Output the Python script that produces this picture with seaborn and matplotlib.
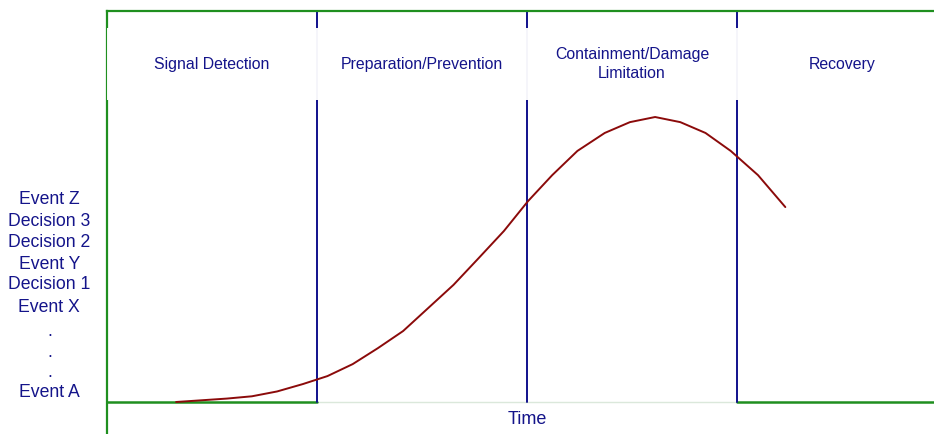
import matplotlib
matplotlib.use("Agg")
import matplotlib.pyplot as plt
import seaborn as sns
import pandas as pd
from matplotlib.patches import Rectangle

# Data
phases = ["Signal Detection", "Preparation/Prevention", "Containment/Damage\nLimitation", "Recovery"]
phase_bounds = [0, 10, 20, 30, 39.38]
time_vals = [3.29, 5.71, 6.9, 8.1, 9.33, 10.5, 11.7, 12.9, 14.1, 15.3, 16.5, 17.7,
             18.9, 20.05, 21.2, 22.4, 23.7, 24.9, 26.1, 27.3, 28.5, 29.7, 31.0, 32.3]
intensity = [0, 1.2, 2.0, 3.7, 6.3, 9.1, 13.3, 18.9, 24.9, 33.0, 41.1, 50.5,
             60.0, 70.5, 79.6, 88.1, 94.4, 98.2, 100, 98.2, 94.4, 88.1, 79.6, 68.4]
event_labels = ["Event A", ".", ".", ".", "Event X", "Decision 1", "Event Y",
                "Decision 2", "Decision 3", "Event Z"]
event_pos = [3.86, 10.9, 18.2, 25.6, 34.0, 41.8, 49.1, 56.5, 64.2, 71.6]

sns.set_style("white")
plt.rcParams['font.family'] = ['Liberation Sans', 'DejaVu Sans']

W, H = 934, 434
fig = plt.figure(figsize=(W / 100, H / 100), dpi=100)
ax = fig.add_axes([107 / W, 0, 827 / W, 423 / H])

navy = "#14148a"
green = "#1f8f1f"
blue = "#10108c"

xmax = phase_bounds[-1]
ax.set_xlim(0, xmax)
ax.set_ylim(-11.23, 137.2)

for s in ["right", "bottom"]:
    ax.spines[s].set_visible(False)
for s in ["left", "top"]:
    ax.spines[s].set_color(green)
    ax.spines[s].set_linewidth(1.6)

# bottom baseline
ax.plot([0, phase_bounds[1]], [0, 0], color=green, lw=1.8, zorder=2, clip_on=False)
ax.plot([phase_bounds[1], phase_bounds[3]], [0, 0], color="#dbe8db", lw=1.0, zorder=1)
ax.plot([phase_bounds[3], xmax], [0, 0], color=green, lw=1.8, zorder=2, clip_on=False)

# phase dividers
for b in phase_bounds[1:4]:
    ax.plot([b, b], [0, 137.2], color=blue, lw=1.4, zorder=2)

df = pd.DataFrame({"t": time_vals, "v": intensity})
sns.lineplot(data=df, x="t", y="v", ax=ax, color="#8b0a0a", lw=1.4, zorder=4)

# white band behind phase titles
ax.add_patch(Rectangle((0, 106.0), xmax, 25.2, facecolor="white", edgecolor="none",
                       alpha=0.96, zorder=3, clip_on=False))

for i, name in enumerate(phases):
    cx = (phase_bounds[i] + phase_bounds[i + 1]) / 2 if i < 3 else 35
    ax.text(cx, 118.6, name, ha="center", va="center", fontsize=11.4,
            color=navy, zorder=5, linespacing=1.3)

ax.text(20, -6.0, "Time", ha="center", va="center", fontsize=13, color=navy)

ax.set_yticks(event_pos)
ax.set_yticklabels(event_labels, fontsize=12.7, color=navy, ha="center")
ax.tick_params(axis="y", length=0, pad=41.5)
ax.set_xticks([])
ax.set_xlabel("")
ax.set_ylabel("")

fig.savefig("out.png", dpi=100)
